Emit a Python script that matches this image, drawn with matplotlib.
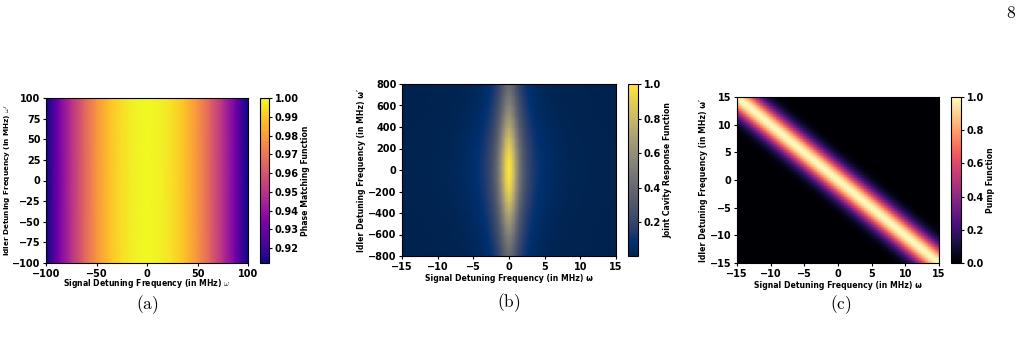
import numpy as np
import matplotlib
matplotlib.use("Agg")
import matplotlib.pyplot as plt

plt.rcParams['font.family'] = ['DejaVu Sans']
plt.rcParams['font.weight'] = 'bold'
plt.rcParams['axes.labelweight'] = 'bold'
plt.rcParams['mathtext.fontset'] = 'cm'

# ---------------- data ----------------
# (a) phase matching function profile along signal detuning (constant along idler)
a_x = [-100, -87.5, -75, -62.5, -50, -37.5, -25, -12.5, 0, 12.5, 25, 37.5, 50, 62.5, 75, 87.5, 100]
a_vals = [0.912, 0.932, 0.949, 0.964, 0.978, 0.988, 0.9945, 0.9986, 1.0,
          0.9986, 0.9945, 0.988, 0.978, 0.964, 0.949, 0.932, 0.912]
a_y = [-100, 100]
a_ticks = [-100, -75, -50, -25, 0, 25, 50, 75, 100]
a_xticks = [-100, -50, 0, 50, 100]
a_cticks = [0.92, 0.93, 0.94, 0.95, 0.96, 0.97, 0.98, 0.99, 1.00]

# (b) joint cavity response: profile along signal and along idler
b_x = [0, 0.5, 1, 1.5, 2, 2.5, 3, 3.5, 4, 4.5, 5, 6, 7, 8, 9, 10, 11, 12, 13, 14, 15]
b_xvals = [1.0, 0.887, 0.662, 0.466, 0.329, 0.239, 0.179, 0.138, 0.109, 0.0883, 0.0727,
           0.0516, 0.0385, 0.0297, 0.0236, 0.0192, 0.0160, 0.0134, 0.0115, 0.0099, 0.0086]
b_y = [0, 100, 200, 300, 400, 500, 600, 700, 800]
b_yvals = [1.0, 0.977, 0.913, 0.825, 0.725, 0.628, 0.540, 0.464, 0.398]
b_xticks = [-15, -10, -5, 0, 5, 10, 15]
b_yticks = [-800, -600, -400, -200, 0, 200, 400, 600, 800]
b_cticks = [0.2, 0.4, 0.6, 0.8, 1.0]

# (c) pump function profile across the anti-diagonal (|w + w'| in steps of 0.5)
c_step = 0.5
c_prof = [1.0, 0.974, 0.902, 0.793, 0.661, 0.524, 0.395, 0.282, 0.191, 0.123,
          0.0756, 0.044, 0.0243, 0.0127, 0.0063, 0.003, 0.0013]
c_ticks = [-15, -10, -5, 0, 5, 10, 15]
c_cticks = [0.0, 0.2, 0.4, 0.6, 0.8, 1.0]

fig = plt.figure(figsize=(10.28, 3.38), dpi=100)
W, H = 1028.0, 338.0

def ax_at(l, t, r, b):
    return fig.add_axes([l / W, 1 - b / H, (r - l) / W, (b - t) / H])

TICK = 7
LAB = 5.6

def style(ax):
    ax.tick_params(labelsize=TICK, length=2.5, width=0.8, pad=1.5)
    for s in ax.spines.values():
        s.set_linewidth(0.8)

def style_cb(cb, label):
    cb.ax.tick_params(labelsize=TICK, length=2.5, width=0.8, pad=1.5)
    cb.outline.set_linewidth(0.8)
    cb.set_label(label, fontsize=LAB, fontweight='bold', labelpad=1.5)

# ---- (a) ----
axa = ax_at(46, 98, 248, 263)
Xa, Ya = np.meshgrid(a_x, a_y)
Za = np.vstack([a_vals, a_vals])
ma = axa.pcolormesh(Xa, Ya, Za, cmap='plasma', shading='gouraud', vmin=0.912, vmax=1.0)
axa.set_xlim(-100, 100); axa.set_ylim(-100, 100)
axa.set_xticks(a_xticks); axa.set_yticks(a_ticks)
axa.set_xlabel(r"Signal Detuning Frequency (in MHz) $\omega$", fontsize=LAB, labelpad=-1)
axa.set_ylabel(r"Idler Detuning Frequency (in MHz) $\omega'$", fontsize=5.2)
axa.yaxis.set_label_coords((13 - 46) / 202.0, 0.5)
style(axa)
caxa = ax_at(260, 98, 269, 263)
cba = fig.colorbar(ma, cax=caxa)
cba.set_ticks(a_cticks)
cba.set_ticklabels(["%.2f" % v for v in a_cticks])
style_cb(cba, "Phase Matching Function")

# ---- (b) ----
axb = ax_at(402, 84, 616, 256)
bx_full = np.array([-v for v in b_x[::-1]] + b_x[1:])
bxv_full = np.array(b_xvals[::-1] + b_xvals[1:])
by_full = np.array([-v for v in b_y[::-1]] + b_y[1:])
byv_full = np.array(b_yvals[::-1] + b_yvals[1:])
Zb = np.outer(byv_full, bxv_full)
Xb, Yb = np.meshgrid(bx_full, by_full)
mb = axb.pcolormesh(Xb, Yb, Zb, cmap='cividis', shading='gouraud')
axb.set_xlim(-15, 15); axb.set_ylim(-800, 800)
axb.set_xticks(b_xticks); axb.set_yticks(b_yticks)
axb.set_xlabel("Signal Detuning Frequency (in MHz) ω", fontsize=LAB, labelpad=2)
axb.set_ylabel("Idler Detuning Frequency (in MHz) ω′", fontsize=LAB, labelpad=1.5)
style(axb)
caxb = ax_at(628, 84, 638, 256)
cbb = fig.colorbar(mb, cax=caxb)
cbb.set_ticks(b_cticks)
style_cb(cbb, "Joint Cavity Response Function")

# ---- (c) ----
axc = ax_at(737, 97, 939, 263)
cg = np.arange(-15, 15 + c_step / 2, c_step)
Xc, Yc = np.meshgrid(cg, cg)
idx = np.rint(np.abs(Xc + Yc) / c_step).astype(int)
prof = np.array(c_prof + [0.0])
Zc = prof[np.minimum(idx, len(c_prof))]
mc = axc.pcolormesh(Xc, Yc, Zc, cmap='magma', shading='gouraud', vmin=0, vmax=1)
axc.set_xlim(-15, 15); axc.set_ylim(-15, 15)
axc.set_xticks(c_ticks); axc.set_yticks(c_ticks)
axc.set_xlabel("Signal Detuning Frequency (in MHz) ω", fontsize=LAB, labelpad=2)
axc.set_ylabel("Idler Detuning Frequency (in MHz) ω′", fontsize=LAB, labelpad=1.5)
style(axc)
caxc = ax_at(951, 97, 961, 263)
cbc = fig.colorbar(mc, cax=caxc)
cbc.set_ticks(c_cticks)
style_cb(cbc, "Pump Function")

# captions and page number
fig.text(147 / W, 1 - 305 / H, r"$\mathrm{(a)}$", fontsize=12.5, ha='center', va='center')
fig.text(509 / W, 1 - 303 / H, r"$\mathrm{(b)}$", fontsize=12.5, ha='center', va='center')
fig.text(841 / W, 1 - 305 / H, r"$\mathrm{(c)}$", fontsize=12.5, ha='center', va='center')
fig.text(1011 / W, 1 - 13 / H, r"$\mathrm{8}$", fontsize=12.5, ha='center', va='center')

fig.savefig("out.png", dpi=100)
